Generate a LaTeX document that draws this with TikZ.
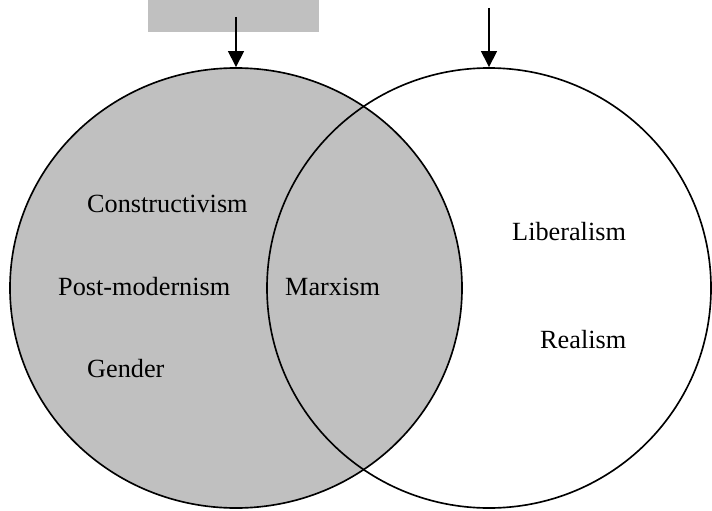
\documentclass[tikz,border=0pt]{standalone}
\usepackage{fontspec}
\setmainfont{Liberation Serif}
\usetikzlibrary{arrows.meta,shapes.geometric}
\definecolor{boxgray}{RGB}{192,192,192}
\tikzset{
  theory/.style={anchor=base west, inner sep=0pt, font=\fontsize{22.4}{27}\selectfont},
  camp/.style={ellipse, draw, line width=1.4pt, inner sep=0pt},
  pointer/.style={line width=1.7pt, -{Triangle[length=0.48cm,width=0.47cm]}}
}

\begin{document}
\begin{tikzpicture}[x=0.03cm, y=-0.03cm]
		%%%%% START %%%%%
		\useasboundingbox (0, 0) rectangle (712, 510);
		
		\fill[boxgray] (148, 0) rectangle (319, 32);
		
		\node[camp, fill=boxgray, minimum width=13.56cm, minimum height=13.2cm] (left) at (236, 288) {};
		\node[camp, minimum width=13.32cm, minimum height=13.2cm] (right) at (489, 288) {};
		
		\coordinate (leftfrom) at (236, 17);
		\coordinate (rightfrom) at (489, 8);
		\draw[pointer] (leftfrom) -- (left.north);
		\draw[pointer] (rightfrom) -- (right.north);
		
		\node[theory] (construct) at (87, 212) {Constructivism};
		\node[theory] (postmod) at (58, 295) {Post-modernism};
		\node[theory] (gender) at (87, 377) {Gender};
		\node[theory] (marx) at (285, 295) {Marxism};
		\node[theory] (liberal) at (512, 240) {Liberalism};
		\node[theory] (realism) at (540, 348) {Realism};
		
		%%%%% END %%%%%
	\end{tikzpicture}
\end{document}
